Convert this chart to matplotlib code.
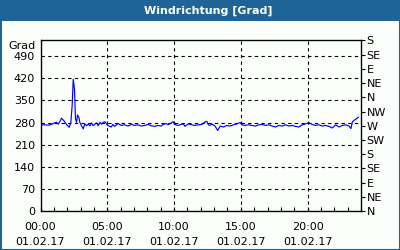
import matplotlib
matplotlib.use("Agg")
import matplotlib.pyplot as plt
from matplotlib.patches import Rectangle
from matplotlib.ticker import MultipleLocator

# Windrichtung ueber den Tag, Stunden seit 00:00
stunden = [0.0, 0.3, 0.6, 0.8, 0.95, 1.1, 1.2, 1.32, 1.45, 1.57, 1.75, 1.95, 2.15, 2.27,
           2.37, 2.45, 2.52, 2.55, 2.62, 2.7, 2.77, 2.87, 2.95, 3.07, 3.2, 3.32, 3.45,
           3.57, 3.7, 3.82, 3.95, 4.07, 4.2, 4.32, 4.45, 4.57, 4.7, 4.82, 4.95, 5.07,
           5.3, 5.42, 5.55, 5.8, 6.05, 6.3, 6.55, 6.8, 7.05, 7.3, 7.55, 7.8, 8.05, 8.3,
           8.55, 8.8, 9.05, 9.17, 9.42, 9.55, 9.8, 9.92, 10.05, 10.3, 10.45, 10.7, 10.82,
           11.07, 11.32, 11.57, 11.82, 12.07, 12.32, 12.45, 12.57, 12.7, 12.82, 13.07,
           13.27, 13.45, 13.7, 13.95, 14.2, 14.45, 14.7, 14.95, 15.07, 15.32, 15.57,
           15.82, 16.1, 16.35, 16.6, 16.85, 17.1, 17.35, 17.6, 17.85, 18.1, 18.35, 18.6,
           18.85, 19.1, 19.35, 19.6, 19.85, 20.1, 20.35, 20.6, 20.85, 21.1, 21.35, 21.6,
           21.85, 22.1, 22.35, 22.6, 22.85, 23.1, 23.25, 23.35, 23.47, 23.65, 23.8]
grad = [272, 273, 272, 274, 277, 280, 281, 275, 283, 294, 286, 274, 265, 280,
        333, 417, 395, 381, 291, 281, 304, 297, 280, 270, 260, 276, 270,
        275, 270, 279, 270, 275, 279, 270, 281, 275, 281, 283, 275, 270,
        266, 274, 268, 277, 271, 273, 269, 274, 271, 273, 269, 271, 274, 270,
        268, 271, 269, 274, 277, 273, 279, 283, 274, 271, 273, 276, 268,
        276, 273, 271, 273, 274, 282, 284, 273, 271, 276, 269,
        255, 269, 266, 271, 269, 273, 276, 280, 273, 271, 273,
        271, 269, 273, 274, 271, 273, 269, 266, 271, 269, 273, 269,
        271, 268, 266, 273, 276, 280, 274, 271, 273, 269, 271, 268,
        263, 273, 266, 271, 273, 269, 261, 282, 287, 292, 297]

links_ticks = [0, 70, 140, 210, 280, 350, 420, 490]
rechts_ticks = [0, 45, 90, 135, 180, 225, 270, 315, 360, 405, 450, 495, 540]
himmelsrichtung = ['N', 'NE', 'E', 'SE', 'S', 'SW', 'W', 'NW', 'N', 'NE', 'E', 'SE', 'S']
x_ticks = [0, 5, 10, 15, 20]
x_labels = ['00:00\n01.02.17', '05:00\n01.02.17', '10:00\n01.02.17',
            '15:00\n01.02.17', '20:00\n01.02.17']

blau = '#1e6496'
fs = 8

fig = plt.figure(figsize=(4, 2.5), dpi=100, facecolor='#fcfefc')
ax = fig.add_axes([40.5/400, 1-211/250, 320.5/400, 170.5/250])
ax.set_facecolor('#fcfefc')

ax.plot(stunden, grad, color='#0000ff', lw=0.85)

ax.set_xlim(0, 24)
ax.set_ylim(0, 540)
ax.set_xticks(x_ticks)
ax.set_xticklabels(x_labels, fontsize=fs, linespacing=1.65)
ax.xaxis.set_minor_locator(MultipleLocator(1))
ax.tick_params(axis='x', which='both', direction='in', length=3, width=0.8, pad=8)
ax.set_yticks(links_ticks)
ax.set_yticklabels([str(v) for v in links_ticks], fontsize=fs)
ax.tick_params(axis='y', length=0, pad=4)
ax.grid(True, color='black', ls=(0, (3, 3)), lw=0.8)
for s in ax.spines.values():
    s.set_linewidth(0.9)

ax2 = ax.twinx()
ax2.set_ylim(0, 540)
ax2.set_yticks(rechts_ticks)
ax2.set_yticklabels(himmelsrichtung, fontsize=fs)
ax2.tick_params(axis='y', direction='out', length=3, width=0.8, pad=1)

fig.text(36/400, 1-46/250, 'Grad', fontsize=fs, ha='right', va='center')

# Titelleiste und Rahmen
fig.patches.append(Rectangle((0, 1-21/250), 1, 21/250, transform=fig.transFigure,
                             facecolor=blau, edgecolor='none', zorder=0))
fig.patches.append(Rectangle((0.5/400, 0.5/250), 399/400, 249/250, transform=fig.transFigure,
                             facecolor='none', edgecolor=blau, lw=1.5, zorder=0))
fig.text(208/400, 1-10.5/250, 'Windrichtung [Grad]', fontsize=8, weight='bold',
         color='white', ha='center', va='center')

fig.savefig('out.png', dpi=100, facecolor=fig.get_facecolor())
